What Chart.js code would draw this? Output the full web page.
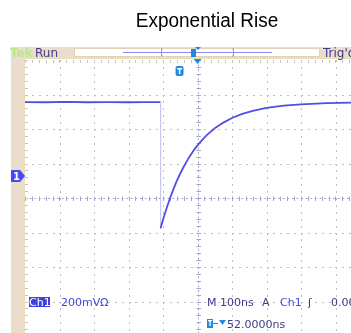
<!DOCTYPE html>
<html><head><meta charset="utf-8">
<script src="https://cdn.jsdelivr.net/npm/chart.js@4/dist/chart.umd.min.js"></script>
<style>html,body{margin:0;padding:0;overflow:hidden;background:#fff;width:351px;height:333px}canvas{display:block}</style>
</head><body>
<canvas id="c" width="414" height="340"></canvas>
<script>
// Time relative to screen centre (ns), 100 ns/div, 10 div wide
const timeNs  = [-500,-440,-380,-320,-260,-200,-150,-107,-107,-100,-90,-80,-70,-60,-50,-40,-25,-10,0,15,30,50,75,100,130,160,200,250,300,375,450,500];
// Ch1 level relative to screen centre (mV), 200 mV/div
const levelMV = [556,555,557,555,556,555,556,556,-176,-126,-62,-3,50,99,142,181,234,279,305,340,370,404,437,464,488,505,522,535,543,550,553,555];
const xTicksNs = [-500,-400,-300,-200,-100,0,100,200,300,400,500];
const yTicksMV = [-800,-600,-400,-200,0,200,400,600,800];
const titleText = "Exponential Rise";

const points = timeNs.map((t,i)=>({x:t,y:levelMV[i]}));
const MONO = '"DejaVu Sans", sans-serif';

const scopePlugin = {
  id:'scope',
  beforeDraw(chart){
    const ctx=chart.ctx, a=chart.chartArea, xs=chart.scales.x, ys=chart.scales.y;
    ctx.save();
    ctx.fillStyle='#000';
    ctx.font='20px "Liberation Sans", Arial, sans-serif';
    ctx.textAlign='center';ctx.textBaseline='middle';
    ctx.save();ctx.translate(207,21);ctx.scale(0.95,1.05);ctx.fillText(titleText,0,0);ctx.restore();
    ctx.fillStyle='#ecdccb';
    ctx.fillRect(11,47,414,11);
    ctx.fillRect(11,47,14,300);
    ctx.fillStyle='#fff';ctx.fillRect(74,48,246,9);
    ctx.strokeStyle='#e2d2bc';ctx.lineWidth=1;ctx.strokeRect(74.5,48.5,245,8);
    ctx.strokeStyle='#e6e0b4';
    ctx.beginPath();ctx.moveTo(24.5,58);ctx.lineTo(24.5,340);ctx.moveTo(24,58.5);ctx.lineTo(414,58.5);ctx.stroke();
    const minor = (xs.getPixelForValue(100)-xs.getPixelForValue(0))/5;
    const minorY = (ys.getPixelForValue(0)-ys.getPixelForValue(200))/5;
    ctx.fillStyle='#bcbcc4';
    xTicksNs.forEach(t=>{
      if(t===0||t===-500) return;
      const px=Math.round(xs.getPixelForValue(t));
      for(let y=a.top;y<=a.bottom;y+=minorY) ctx.fillRect(px,Math.round(y),1,2);
    });
    yTicksMV.forEach(v=>{
      if(v===0||v===800) return;
      const py=Math.round(ys.getPixelForValue(v));
      for(let x=a.left;x<=a.right;x+=minor) ctx.fillRect(Math.round(x),py,2,1);
    });
    const cx=Math.round(xs.getPixelForValue(0))+0.5, cy=Math.round(ys.getPixelForValue(0))+0.5;
    ctx.strokeStyle='#a4a4cc';ctx.lineWidth=1;
    ctx.setLineDash([2,2.6]);
    ctx.beginPath();ctx.moveTo(a.left,cy);ctx.lineTo(a.right,cy);ctx.moveTo(cx,a.top);ctx.lineTo(cx,a.bottom);ctx.stroke();
    ctx.setLineDash([]);
    ctx.beginPath();
    for(let x=a.left;x<=a.right;x+=minor){const px=Math.round(x)+0.5;ctx.moveTo(px,cy-2);ctx.lineTo(px,cy+2.5);}
    for(let y=a.top;y<=a.bottom;y+=minorY){const py=Math.round(y)+0.5;ctx.moveTo(cx-2,py);ctx.lineTo(cx+2.5,py);}
    ctx.stroke();
    ctx.strokeStyle='#c4c4c8';
    ctx.beginPath();
    for(let x=a.left;x<=a.right;x+=minor){const px=Math.round(x)+0.5;ctx.moveTo(px,a.top);ctx.lineTo(px,a.top+3);}
    for(let y=a.top;y<=a.bottom;y+=minorY){const py=Math.round(y)+0.5;ctx.moveTo(a.left,py);ctx.lineTo(a.left+3,py);}
    ctx.stroke();
    ctx.restore();
  },
  afterDraw(chart){
    const ctx=chart.ctx, xs=chart.scales.x, ys=chart.scales.y;
    ctx.save();
    ctx.textBaseline='alphabetic';ctx.textAlign='left';
    ctx.font='bold 12px '+MONO;
    ctx.fillStyle='#b2ec88';ctx.fillText('Tek',10,57);
    ctx.font='12px '+MONO;
    ctx.fillStyle='#3c3c88';ctx.fillText('Run',35,57);
    ctx.font='12px '+MONO;
    ctx.fillText("Trig'd",323,57);
    ctx.strokeStyle='#8c8cf0';ctx.lineWidth=1;
    ctx.beginPath();ctx.moveTo(123,52.5);ctx.lineTo(272,52.5);ctx.stroke();
    ctx.strokeStyle='#9a9aa8';
    ctx.beginPath();ctx.moveTo(163,49);ctx.lineTo(161.5,49);ctx.lineTo(161.5,56);ctx.lineTo(163,56);
    ctx.moveTo(232,49);ctx.lineTo(233.5,49);ctx.lineTo(233.5,56);ctx.lineTo(232,56);ctx.stroke();
    ctx.fillStyle='#1e88e0';
    ctx.fillRect(191,49,5,8);
    ctx.beginPath();ctx.moveTo(195,47);ctx.lineTo(201,47);ctx.lineTo(198,50);ctx.closePath();ctx.fill();
    const tx=xs.getPixelForValue(-52), cx=xs.getPixelForValue(0);
    ctx.fillStyle='#1e8ae6';
    ctx.beginPath();ctx.roundRect(tx-4,66,8,10,2);ctx.fill();
    ctx.fillStyle='#fff';ctx.fillRect(tx-2.5,68,5,1.5);ctx.fillRect(tx-0.7,68,1.5,6);
    ctx.fillStyle='#1e8ae6';
    ctx.beginPath();ctx.moveTo(cx-4,59);ctx.lineTo(cx+4,59);ctx.lineTo(cx,64);ctx.closePath();ctx.fill();
    const gy=ys.getPixelForValue(128);
    ctx.fillStyle='#4848f0';
    ctx.beginPath();ctx.moveTo(11,gy-6);ctx.lineTo(20,gy-6);ctx.lineTo(25,gy);ctx.lineTo(20,gy+6);ctx.lineTo(11,gy+6);ctx.closePath();ctx.fill();
    ctx.fillStyle='#fff';ctx.font='bold 10px '+MONO;ctx.fillText('1',13,gy+4);
    ctx.fillStyle='#4040e0';ctx.fillRect(29,297,21,10);
    ctx.font='11px '+MONO;
    ctx.fillStyle='#fff';ctx.fillText('Ch1',29,306);
    ctx.fillStyle='#4646dc';ctx.fillText('200mV',61,306);ctx.fillText('\u03A9',100,306);
    ctx.fillStyle='#3c3c88';ctx.fillText('M 100ns',207,306);ctx.fillText('A',262,306);
    ctx.fillStyle='#4646dc';ctx.fillText('Ch1',280,306);
    ctx.fillStyle='#3c3c88';ctx.fillText('\u0283',308,306);ctx.fillText('0.00',331,306);
    ctx.fillStyle='#1e8ae6';ctx.fillRect(207,319,6,9);
    ctx.fillStyle='#fff';ctx.fillRect(208,320,4,1.3);ctx.fillRect(209.4,320,1.3,6);
    ctx.fillStyle='#1e8ae6';ctx.fillRect(213,323,5,1);
    ctx.beginPath();ctx.moveTo(219,320);ctx.lineTo(226,320);ctx.lineTo(222.5,325);ctx.closePath();ctx.fill();
    ctx.fillStyle='#3c3c88';ctx.fillText('52.0000ns',227,328);
    ctx.restore();
  }
};

new Chart(document.getElementById('c'),{
  type:'line',
  data:{datasets:[{
    data:points,
    borderColor:'#4f4fe8',
    borderWidth:1.8,
    pointRadius:0,
    tension:0,
    segment:{borderColor:c=>c.p0.parsed.x===c.p1.parsed.x?'#c8c8f4':undefined,
             borderWidth:c=>c.p0.parsed.x===c.p1.parsed.x?1:undefined}
  }]},
  options:{
    responsive:false,animation:false,
    layout:{padding:{left:25,top:60,right:44,bottom:4}},
    plugins:{legend:{display:false},title:{display:false},tooltip:{enabled:false}},
    scales:{
      x:{type:'linear',display:false,min:-500,max:500},
      y:{type:'linear',display:false,min:-800,max:800}
    }
  },
  plugins:[scopePlugin]
});
</script>
</body></html>
